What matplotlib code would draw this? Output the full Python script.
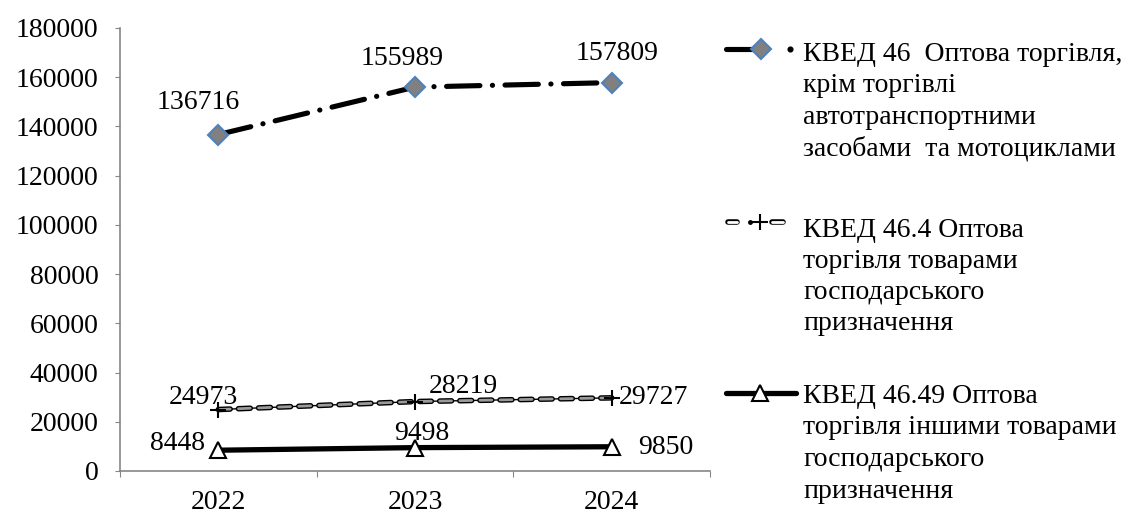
import matplotlib
matplotlib.use("Agg")
import matplotlib.pyplot as plt
import numpy as np

# data
years = ["2022", "2023", "2024"]
kved46 = [136716, 155989, 157809]
kved464 = [24973, 28219, 29727]
kved4649 = [8448, 9498, 9850]

labels = [
    ["КВЕД 46  Оптова торгівля,", "крім торгівлі", "автотранспортними",
     "засобами  та мотоциклами"],
    ["КВЕД 46.4 Оптова", "торгівля товарами", "господарського",
     "призначення"],
    ["КВЕД 46.49 Оптова", "торгівля іншими товарами", "господарського",
     "призначення"],
]

plt.rcParams["font.family"] = ["Liberation Serif", "DejaVu Serif"]
plt.rcParams["lines.scale_dashes"] = False
FS = 20
PX = 0.72  # points per pixel at dpi 100
GREY = "#868686"
DASH_FILL = "#9a9a9a"

fig = plt.figure(figsize=(11.28, 5.17), dpi=100)
W, H = 1128, 517
ax = fig.add_axes([120 / W, 1 - 471 / H, (710 - 120) / W, (471 - 28) / H])

x = np.arange(len(years))

# KVED 46: thick dash-dot with grey/blue diamonds
ax.plot(x, kved46, color="black", lw=3.7, dashes=(24, 9, 0.1, 9),
        dash_capstyle="round", zorder=3)
ax.plot(x, kved46, ls="none", marker="D", ms=9.8, mfc="#808080",
        mec="#4f81bd", mew=1.5, zorder=4)

# KVED 46.4: thin line with outlined dashes and plus markers
ax.plot(x, kved464, color="black", lw=1, zorder=3)
ax.plot(x, kved464, color="black", lw=4, dashes=(8.5, 6),
        dash_capstyle="round", zorder=3)
ax.plot(x, kved464, color=DASH_FILL, lw=2, dashes=(8.5, 6),
        dash_capstyle="round", zorder=3)
ax.plot(x, kved464, ls="none", marker="+", ms=12, mec="black",
        mew=1.5, zorder=4)

# KVED 46.49: thick solid with open triangles
ax.plot(x, kved4649, color="black", lw=3.8, zorder=3)
ax.plot(x, kved4649, ls="none", marker="^", ms=12, mfc="white",
        mec="black", mew=1.5, zorder=4)

# value labels (offsets in pixels)
off46 = [(-20, 32, "center"), (-13, 29, "center"), (5, 29, "center")]
off464 = [(-15, 12, "center"), (48, 15, "center"), (7, 0, "left")]
off4649 = [(-13, 7, "right"), (7, 14, "center"), (26, -1, "left")]
for vals, offs in ((kved46, off46), (kved464, off464), (kved4649, off4649)):
    for xi, v, (dx, dy, ha) in zip(x, vals, offs):
        ax.annotate(str(v), (xi, v), xytext=(dx * PX, dy * PX),
                    textcoords="offset points", ha=ha, va="center",
                    fontsize=FS, zorder=5)

ax.set_xlim(-0.5, 2.5)
ax.set_ylim(0, 180000)
ax.set_yticks(np.arange(0, 180001, 20000))
ax.set_xticks([-0.5, 0.5, 1.5, 2.5])
ax.set_xticklabels([])
ax.set_xticks(x, minor=True)
ax.set_xticklabels(years, minor=True)
ax.tick_params(axis="x", which="major", length=6 * PX, color=GREY)
ax.tick_params(axis="x", which="minor", length=0, pad=14, labelsize=FS)
ax.tick_params(axis="y", length=5 * PX, color=GREY, pad=12, labelsize=FS)
for s in ("top", "right"):
    ax.spines[s].set_visible(False)
for s in ("left", "bottom"):
    ax.spines[s].set_color(GREY)
    ax.spines[s].set_linewidth(1.2)

# hand-built legend in pixel coordinates
lax = fig.add_axes([0, 0, 1, 1], facecolor="none")
lax.set_xlim(0, W)
lax.set_ylim(H, 0)
lax.axis("off")

# entry 1
y1 = 49
lax.plot([726, 756], [y1, y1], color="black", lw=3.7, solid_capstyle="round")
lax.plot([790], [y1], ls="none", marker="o", ms=3.4, color="black")
lax.plot([761], [y1], ls="none", marker="D", ms=9.8, mfc="#808080",
         mec="#4f81bd", mew=1.5)
# entry 2
y2 = 222
for a, b in ((728, 737), (772, 783)):
    lax.plot([a, b], [y2, y2], color="black", lw=4, solid_capstyle="round")
    lax.plot([a, b], [y2, y2], color="white", lw=2, solid_capstyle="round")
lax.plot([750], [y2], ls="none", marker="o", ms=2.5, color="black")
lax.plot([760], [y2], ls="none", marker="+", ms=12, mec="black", mew=1.5)
# entry 3
y3 = 393
lax.plot([726, 796], [y3, y3], color="black", lw=3.8, solid_capstyle="round")
lax.plot([760], [y3], ls="none", marker="^", ms=12, mfc="white",
         mec="black", mew=1.5)

baselines = [[61, 92.5, 124, 155.5], [237, 268, 299, 330],
             [403, 434.5, 466, 497.5]]
for lines, bls in zip(labels, baselines):
    for t, b in zip(lines, bls):
        lax.text(803, b, t, fontsize=FS, ha="left", va="baseline")

fig.savefig("out.png", dpi=100)
